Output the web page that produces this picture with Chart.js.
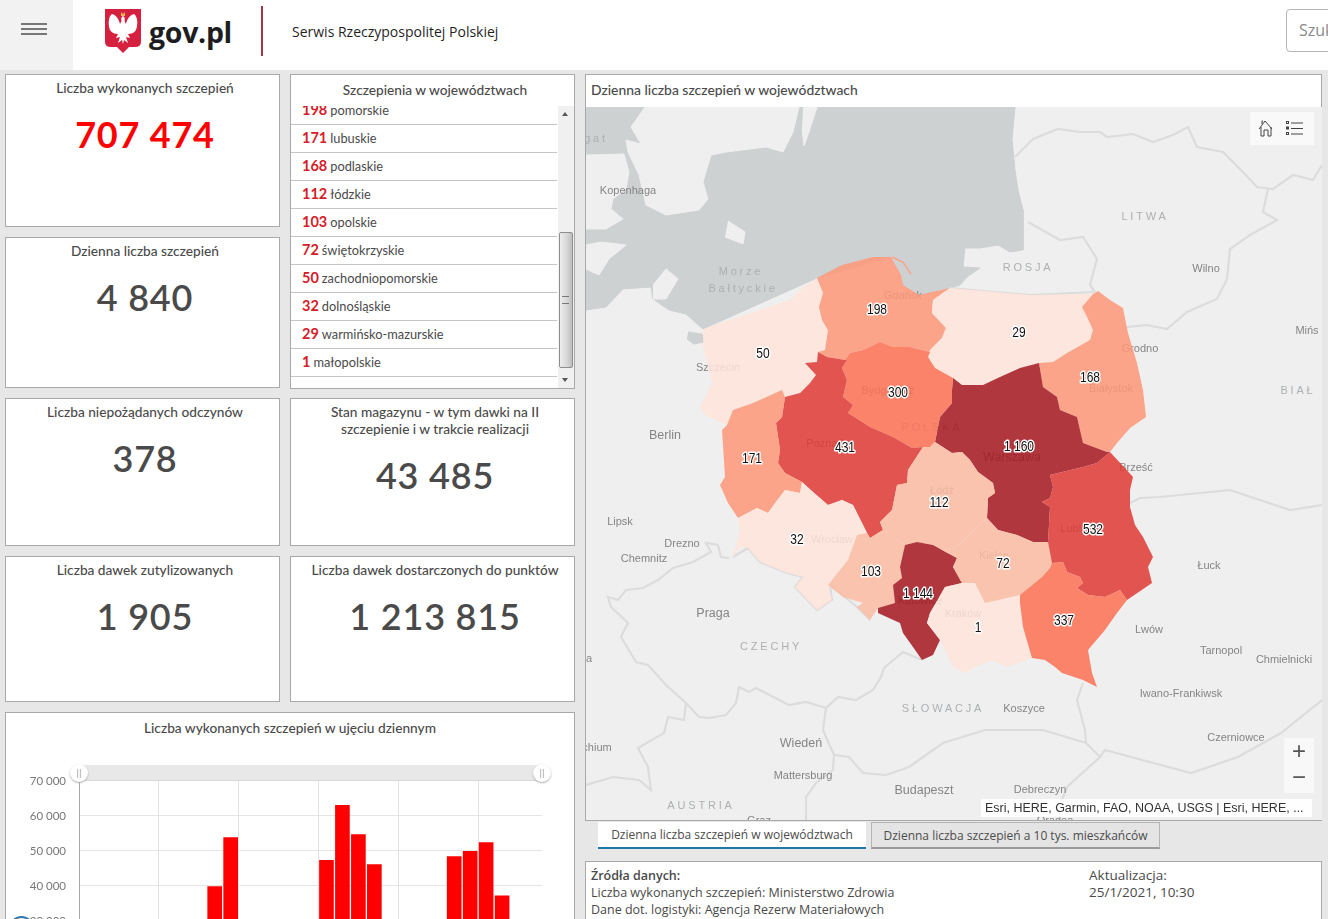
<!DOCTYPE html>
<html lang="pl">
<head>
<meta charset="utf-8">
<title>Szczepienia</title>
<script src="https://cdn.jsdelivr.net/npm/chart.js@4/dist/chart.umd.min.js"></script>
<style>
  html, body { margin: 0; padding: 0; width: 1328px; height: 919px; overflow: hidden; background: #e7e7e7; font-family: Lato, "Open Sans", sans-serif; color: #4c4c4c; }
  .abs { position: absolute; }
  .card { position: absolute; background: #fff; border: 1px solid #a9a9a9; box-sizing: border-box; overflow: hidden; }
  .title { position: absolute; left: 5px; right: 0; text-align: center; font-size: 13.7px; font-weight: 500; line-height: 17px; color: #4a4a4a; }
  .big { position: absolute; left: 5px; right: 0; text-align: center; font-size: 36px; font-weight: 600; line-height: 40px; letter-spacing: 0.8px; color: #4a4a4a; }
  #header { position: absolute; left: 0; top: 0; width: 1328px; height: 70px; background: #fff; }
  #burger { position: absolute; left: 0; top: 0; width: 73px; height: 70px; background: #f2f2f2; }
  #burger i { position: absolute; left: 21px; width: 26px; height: 2px; background: #777; }
  .row { position: absolute; left: 0; width: 266px; height: 28px; border-bottom: 1px solid #c4c4c4; box-sizing: border-box; font-size: 12.8px; line-height: 26px; padding-left: 11px; color: #4a4a4a; white-space: nowrap; }
  .row b { color: #d4202a; font-size: 14.5px; font-weight: 700; margin-right: 3px; }
  .tab { position: absolute; top: 822px; height: 27px; box-sizing: border-box; text-align: center; font-size: 12px; line-height: 25px; font-family: "Open Sans", Lato, sans-serif; }
  .src { position: absolute; font-size: 12.5px; line-height: 17px; color: #4a4a4a; font-family: "Open Sans", Lato, sans-serif; white-space: nowrap; }
</style>
</head>
<body>
<div id="header">
  <div id="burger"><i style="top:23px"></i><i style="top:28px"></i><i style="top:33px"></i></div>
  <svg class="abs" style="left:105px;top:9px" width="37" height="44" viewBox="0 0 37 44">
    <path d="M0 0H36V33Q36 38 30 38H24L18 44L12 38H6Q0 38 0 33Z" fill="#d6203f"/>
    <path d="M18 7C20 8 20 10 19.500 12L21 15C22 10 25 6 29 5C33 8 33 16 31 21C29 24 26 25 23 25L25 29L21 28L23 34L19 31L18 35L17 31L13 34L15 28L11 29L13 25C10 25 7 24 5 21C3 16 3 8 7 5C11 6 14 10 15 15L16.500 12C16 10 16 8 18 7Z" fill="#fff"/>
    <path d="M16 3L18 5L20 3V7H16Z" fill="#e8b84a"/>
  </svg>
  <div class="abs" style="left:149px;top:12px;font:700 28.5px/40px 'Open Sans',sans-serif;color:#1d1d1f;letter-spacing:-.3px">gov.pl</div>
  <div class="abs" style="left:261px;top:6px;width:2px;height:50px;background:#a8324a"></div>
  <div class="abs" style="left:292px;top:22px;font:400 14px/20px 'Open Sans',sans-serif;color:#1f1f1f">Serwis Rzeczypospolitej Polskiej</div>
  <div class="abs" style="left:1286px;top:9px;width:60px;height:43px;border:1px solid #b5b5b5;border-radius:4px;box-sizing:border-box;font:400 16px/41px 'Open Sans',sans-serif;color:#8a8a8a;padding-left:12px">Szukaj</div>
</div>

<div class="card" style="left:5px;top:74px;width:275px;height:153px">
  <div class="title" style="top:4px">Liczba wykonanych szczepień</div>
  <div class="big" id="kpiDone" style="top:39px;color:#ff0000;font-weight:700"></div>
</div>
<div class="card" style="left:5px;top:237px;width:275px;height:151px">
  <div class="title" style="top:4px">Dzienna liczba szczepień</div>
  <div class="big" id="kpiDaily" style="top:39px"></div>
</div>
<div class="card" style="left:5px;top:398px;width:275px;height:148px">
  <div class="title" style="top:4px">Liczba niepożądanych odczynów</div>
  <div class="big" id="kpiAdverse" style="top:39px"></div>
</div>
<div class="card" style="left:5px;top:556px;width:275px;height:146px">
  <div class="title" style="top:4px">Liczba dawek zutylizowanych</div>
  <div class="big" id="kpiWaste" style="top:39px"></div>
</div>

<div class="card" style="left:290px;top:74px;width:285px;height:315px">
  <div class="title" style="top:6px">Szczepienia w województwach</div>
  <div id="listBox" class="abs" style="left:0;top:31px;width:283px;height:282px;overflow:hidden"></div>
  <div class="abs" style="left:267px;top:31px;width:16px;height:282px;background:#f0f0f0"></div>
  <div class="abs" style="left:268px;top:157px;width:14px;height:136px;box-sizing:border-box;border:1px solid #8e8e8e;border-radius:2px;background:linear-gradient(90deg,#eee,#d6d6d6 60%,#bdbdbd)"></div>
  <div class="abs" style="left:271px;top:221px;width:7px;height:6px;border-top:1px solid #777;border-bottom:1px solid #777"></div>
  <div class="abs" style="left:271px;top:34px;border:3px solid transparent;border-bottom:4px solid #555"></div>
  <div class="abs" style="left:271px;top:303px;border:3px solid transparent;border-top:4px solid #555"></div>
</div>
<div class="card" style="left:290px;top:398px;width:285px;height:148px">
  <div class="title" style="top:4px">Stan magazynu - w tym dawki na II<br>szczepienie i w trakcie realizacji</div>
  <div class="big" id="kpiStock" style="top:56px"></div>
</div>
<div class="card" style="left:290px;top:556px;width:285px;height:146px">
  <div class="title" style="top:4px">Liczba dawek dostarczonych do punktów</div>
  <div class="big" id="kpiDelivered" style="top:39px"></div>
</div>

<!-- daily bars -->
<div class="card" style="left:5px;top:712px;width:570px;height:220px">
  <div class="title" style="top:6px;left:0">Liczba wykonanych szczepień w ujęciu dziennym</div>
</div>
<div class="abs" style="left:0;top:761px;width:580px;height:158px;overflow:hidden">
  <canvas id="dailyChart" width="580" height="290" style="position:absolute;left:0;top:0"></canvas>
</div>
<div class="abs" style="left:79px;top:765px;width:463px;height:16px;background:#e8e8e8;border-bottom:1px solid #d8d8d8;box-sizing:border-box"></div>
<div class="abs" style="left:70px;top:764px;width:18px;height:18px;border-radius:50%;background:#fff;box-shadow:0 1px 2px #aaa;font:10px/17px Lato;text-align:center;color:#999">||</div>
<div class="abs" style="left:533px;top:764px;width:18px;height:18px;border-radius:50%;background:#fff;box-shadow:0 1px 2px #aaa;font:10px/17px Lato;text-align:center;color:#999">||</div>
<div class="abs" style="left:9px;top:916px;width:25px;height:25px;border:2px solid #2d78ac;border-radius:50%;box-sizing:border-box"></div>

<!-- map -->
<div class="card" style="left:585px;top:74px;width:737px;height:747px">
  <div class="abs" style="left:5px;top:6px;font-size:13.9px;font-weight:500;line-height:17px;color:#4a4a4a">Dzienna liczba szczepień w województwach</div>
</div>
<canvas id="mapChart" width="736" height="713" class="abs" style="left:586px;top:107px;background:#efefef"></canvas>
<div class="abs" style="left:1250px;top:112px;width:64px;height:33px;background:rgba(250,250,250,.85)"></div>
<svg class="abs" style="left:1250px;top:112px" width="64" height="33" fill="none" stroke="#444" stroke-width="1">
  <path d="M9 17L15 9L22 17M11 15V24H14V18H18V24H21V15M12 12V9H13"/>
  <path d="M41 11H53M41 16.500H53M41 22H53"/>
  <rect x="36.500" y="9.500" width="2" height="2"/><rect x="36.500" y="15" width="2" height="2"/><rect x="36.500" y="20.500" width="2" height="2"/>
</svg>
<div class="abs" style="left:1284px;top:738px;width:30px;height:55px;background:rgba(248,248,248,.9);color:#555;text-align:center;font:400 24px/26px 'Liberation Sans',sans-serif">+<br>&#8722;</div>
<div class="abs" style="left:981px;top:799px;width:331px;height:18px;background:rgba(255,255,255,.92);font:12.5px/18px 'Liberation Sans',sans-serif;color:#333;padding-left:4px;box-sizing:border-box;white-space:nowrap">Esri, HERE, Garmin, FAO, NOAA, USGS | Esri, HERE, ...</div>

<div class="tab" style="left:598px;width:268px;background:#fff;border-bottom:2px solid #1f77a6">Dzienna liczba szczepień w województwach</div>
<div class="tab" style="left:871px;width:289px;background:#e4e4e4;border:1px solid #b5b5b5;border-bottom:2px solid #9a9a9a">Dzienna liczba szczepień a 10 tys. mieszkańców</div>

<div class="card" style="left:585px;top:861px;width:737px;height:80px"></div>
<div class="src" style="left:591px;top:867px;font-weight:600">Źródła danych:</div>
<div class="src" style="left:591px;top:884px">Liczba wykonanych szczepień: Ministerstwo Zdrowia</div>
<div class="src" style="left:591px;top:901px">Dane dot. logistyki: Agencja Rezerw Materiałowych</div>
<div class="src" style="left:1089px;top:867px;font-size:13.5px">Aktualizacja:</div>
<div class="src" style="left:1089px;top:884px;font-size:13.5px">25/1/2021, 10:30</div>

<script>
// Headline numbers
const kpiDone = 707474;
const kpiDaily = 4840;
const kpiAdverse = 378;
const kpiWaste = 1905;
const kpiStock = 43485;
const kpiDelivered = 1213815;

// Scrolled list on the left
const listNames = ["pomorskie", "lubuskie", "podlaskie", "łódzkie", "opolskie", "świętokrzyskie", "zachodniopomorskie", "dolnośląskie", "warmińsko-mazurskie", "małopolskie"];
const listValues = [198, 171, 168, 112, 103, 72, 50, 32, 29, 1];

// Daily chart. Bars under about 30 000 run off the bottom of the screenshot, those are guesses
const dayLabels = ["27/12", "28/12", "29/12", "30/12", "31/12", "1/1", "2/1", "3/1", "4/1", "5/1", "6/1", "7/1", "8/1", "9/1", "10/1", "11/1", "12/1", "13/1", "14/1", "15/1", "16/1", "17/1", "18/1", "19/1", "20/1", "21/1", "22/1", "23/1", "24/1"];
const dayValues = [700, 1500, 6000, 9000, 11000, 6000, 4000, 2000, 39800, 53800, 25000, 20000, 28000, 14000, 5000, 47300, 63000, 54700, 46100, 28000, 20000, 6000, 28000, 48400, 49900, 52400, 37200, 15000, 5000];
const dayTicks = [70000, 60000, 50000, 40000, 30000, 20000, 10000, 0];

// Map values and class colours (alpha so the base map labels show through, like the feature layer)
const regionValues = [50, 198, 29, 168, 1160, 300, 431, 171, 32, 103, 112, 1144, 1, 72, 532, 337];
const classPale = "rgba(255,228,218,0.86)";
const classLight = "rgba(251,187,162,0.86)";
const classMid = "rgba(254,151,120,0.86)";
const classStrong = "rgba(251,113,84,0.86)";
const classHigh = "rgba(222,58,52,0.86)";
const classTop = "rgba(167,25,34,0.86)";
const regionColors = [classPale, classMid, classPale, classMid, classTop, classStrong, classHigh, classMid, classPale, classLight, classLight, classTop, classPale, classLight, classHigh, classStrong];
const regionLabelX = [763, 877, 1019, 1090, 1019, 898, 845, 752, 797, 871, 939, 918, 978, 1003, 1093, 1064];
const regionLabelY = [353, 309, 332, 377, 446, 392, 447, 458, 539, 571, 502, 593, 627, 563, 529, 620];

// Outlines in map units (same grid for everything on the map)
const zachodniopomorskie = [[703, 329], [730, 320], [760, 310], [790, 300], [803, 287], [817, 278], [823, 293], [819, 307], [822, 320], [828, 330], [825, 350], [818, 352], [817, 362], [805, 363], [816, 375], [810, 383], [800, 393], [785, 397], [782, 390], [753, 403], [733, 410], [727, 425], [705, 415], [700, 407], [712, 383], [703, 347]];
const pomorskie = [[817, 278], [842, 265], [873, 257], [891, 257], [901, 275], [903, 285], [919, 295], [950, 288], [933, 300], [932, 313], [946, 328], [942, 338], [930, 350], [930, 352], [910, 347], [893, 347], [880, 342], [863, 350], [850, 353], [845, 360], [827, 357], [818, 352], [825, 350], [828, 330], [822, 320], [819, 307], [823, 293]];
const warminskoMazurskie = [[950, 288], [987, 291], [1030, 295], [1093, 294], [1082, 307], [1087, 317], [1093, 330], [1090, 340], [1067, 353], [1053, 362], [1039, 363], [1020, 368], [1000, 377], [983, 385], [962, 385], [953, 378], [935, 368], [928, 357], [930, 350], [942, 338], [946, 328], [932, 313], [933, 300]];
const podlaskie = [[1098, 291], [1110, 300], [1123, 308], [1128, 333], [1137, 363], [1143, 390], [1146, 417], [1130, 428], [1117, 443], [1110, 452], [1107, 452], [1083, 443], [1077, 417], [1060, 410], [1057, 397], [1043, 387], [1039, 363], [1053, 362], [1067, 353], [1090, 340], [1093, 330], [1087, 317], [1082, 307], [1093, 294]];
const mazowieckie = [[1039, 363], [1043, 387], [1057, 397], [1060, 410], [1077, 417], [1083, 443], [1107, 452], [1110, 452], [1097, 463], [1083, 467], [1050, 475], [1053, 487], [1050, 498], [1042, 502], [1050, 507], [1048, 542], [1033, 542], [1017, 535], [998, 530], [987, 518], [988, 498], [995, 493], [993, 483], [978, 472], [970, 460], [962, 452], [952, 453], [935, 442], [940, 417], [952, 403], [952, 390], [953, 378], [962, 385], [983, 385], [1000, 377], [1020, 368]];
const kujawskoPomorskie = [[845, 360], [850, 353], [863, 350], [880, 342], [893, 347], [910, 347], [930, 352], [928, 357], [935, 368], [953, 378], [952, 390], [952, 403], [940, 417], [935, 442], [930, 447], [923, 447], [912, 448], [893, 437], [870, 427], [848, 413], [853, 405], [843, 397], [847, 380], [842, 368], [847, 360]];
const wielkopolskie = [[818, 352], [827, 357], [845, 360], [847, 360], [842, 368], [847, 380], [843, 397], [853, 405], [848, 413], [870, 427], [893, 437], [912, 448], [923, 447], [908, 470], [907, 483], [897, 485], [892, 510], [880, 522], [883, 530], [870, 538], [867, 533], [863, 525], [853, 505], [842, 500], [828, 505], [813, 492], [802, 482], [785, 473], [778, 463], [780, 450], [776, 423], [782, 417], [785, 397], [800, 393], [810, 383], [816, 375], [805, 363], [817, 362]];
const lubuskie = [[733, 410], [753, 403], [782, 390], [785, 397], [782, 417], [776, 423], [780, 450], [778, 463], [785, 473], [802, 482], [800, 493], [785, 490], [775, 503], [768, 513], [757, 508], [738, 518], [728, 503], [720, 485], [725, 477], [722, 430], [727, 425]];
const dolnoslaskie = [[738, 518], [757, 508], [768, 513], [785, 490], [800, 493], [802, 482], [813, 492], [828, 505], [842, 500], [853, 505], [863, 525], [867, 533], [857, 535], [848, 560], [840, 570], [828, 585], [832, 600], [817, 610], [795, 587], [803, 577], [787, 573], [760, 562], [748, 548], [740, 547], [733, 557], [740, 530]];
const opolskie = [[867, 533], [870, 538], [883, 530], [905, 545], [900, 567], [902, 578], [893, 585], [895, 603], [878, 608], [870, 620], [857, 607], [863, 603], [843, 597], [828, 585], [840, 570], [848, 560], [857, 535]];
const lodzkie = [[923, 447], [930, 447], [935, 442], [952, 453], [962, 452], [970, 460], [978, 472], [993, 483], [995, 493], [988, 498], [987, 518], [977, 527], [957, 547], [942, 550], [933, 545], [917, 542], [905, 545], [883, 530], [880, 522], [892, 510], [897, 485], [907, 483], [908, 470]];
const slaskie = [[905, 545], [917, 542], [933, 545], [942, 550], [957, 558], [953, 567], [962, 583], [945, 587], [930, 613], [927, 623], [940, 640], [933, 655], [922, 660], [913, 647], [903, 633], [900, 623], [878, 613], [878, 608], [895, 603], [893, 585], [902, 578], [900, 567]];
const malopolskie = [[962, 583], [975, 583], [985, 603], [1020, 595], [1020, 603], [1023, 627], [1032, 658], [1007, 667], [992, 660], [975, 667], [965, 673], [953, 667], [945, 650], [940, 640], [927, 623], [930, 613], [945, 587]];
const swietokrzyskie = [[957, 547], [977, 527], [987, 518], [998, 530], [1017, 535], [1033, 542], [1048, 542], [1052, 563], [1050, 568], [1042, 577], [1020, 595], [985, 603], [975, 583], [962, 583], [953, 567], [957, 558], [942, 550]];
const lubelskie = [[1050, 475], [1083, 467], [1097, 463], [1110, 452], [1133, 477], [1130, 490], [1130, 507], [1135, 525], [1143, 537], [1153, 557], [1148, 567], [1152, 583], [1127, 600], [1120, 590], [1105, 597], [1088, 595], [1077, 588], [1083, 583], [1080, 577], [1067, 572], [1063, 562], [1052, 563], [1048, 542], [1050, 507], [1042, 502], [1050, 498], [1053, 487]];
const podkarpackie = [[1052, 563], [1063, 562], [1067, 572], [1080, 577], [1083, 583], [1077, 588], [1088, 595], [1105, 597], [1120, 590], [1127, 600], [1117, 613], [1105, 630], [1088, 650], [1092, 673], [1097, 687], [1083, 680], [1062, 673], [1055, 667], [1045, 660], [1032, 658], [1023, 627], [1020, 603], [1020, 595], [1042, 577], [1050, 568]];
const regionShapes = [zachodniopomorskie, pomorskie, warminskoMazurskie, podlaskie, mazowieckie, kujawskoPomorskie, wielkopolskie, lubuskie, dolnoslaskie, opolskie, lodzkie, slaskie, malopolskie, swietokrzyskie, lubelskie, podkarpackie];

// Base map
const seaShape = [[586, 107], [1015, 107], [1012, 139], [1015, 170], [1018, 190], [1023, 210], [1023, 250], [1010, 252], [998, 245], [980, 248], [965, 248], [963, 267], [980, 268], [967, 277], [960, 285], [950, 288], [919, 296], [903, 285], [901, 275], [891, 257], [817, 278], [703, 329], [686, 314], [669, 310], [653, 299], [651, 287], [623, 289], [606, 307], [586, 310]];
const sweden = [[645, 107], [631, 127], [641, 144], [626, 140], [628, 152], [639, 175], [646, 205], [666, 215], [699, 210], [708, 199], [703, 182], [711, 155], [726, 152], [766, 147], [783, 152], [793, 132], [799, 107]];
const oland = [[803, 107], [817, 107], [809, 132], [804, 146], [802, 129]];
const bornholm = [[728, 221], [745, 232], [743, 244], [725, 237]];
const zealand = [[586, 155], [624, 154], [629, 172], [626, 189], [613, 199], [611, 209], [623, 219], [606, 229], [586, 229]];
const lolland = [[586, 245], [601, 242], [626, 245], [609, 259], [599, 275], [586, 269]];
const rugen = [[653, 285], [666, 269], [678, 279], [666, 299], [653, 299]];
const landPatches = [sweden, oland, bornholm, zealand, lolland, rugen];
const szczecinLagoon = [[688, 332], [702, 334], [704, 342], [694, 344], [687, 339]];
const helPeninsula = [[892, 257], [903, 262], [911, 274]];

// Country borders
const borderCzech = [[729, 558], [721, 557], [718, 545], [706, 543], [711, 552], [693, 562], [673, 568], [658, 580], [643, 588], [626, 590], [618, 600], [608, 597], [611, 607], [628, 623], [621, 637], [636, 662], [648, 665], [666, 685], [686, 703], [699, 717], [709, 718], [726, 715], [736, 703], [739, 687], [749, 692], [756, 688], [789, 705], [806, 702], [826, 708], [838, 697], [856, 700], [873, 690], [881, 677], [884, 668], [903, 652], [922, 660]];
const borderPlSouth = [[733, 557], [748, 548], [760, 562], [787, 573], [803, 577], [795, 587], [817, 610], [832, 600], [830, 585], [857, 607], [870, 620]];
const borderAustriaWest = [[686, 703], [684, 720], [668, 717], [664, 733], [638, 748], [648, 767], [651, 790], [639, 780], [613, 777], [586, 785]];
const borderAustriaEast = [[826, 708], [823, 730], [834, 755], [833, 770], [816, 783], [806, 797], [806, 820]];
const borderHungary = [[834, 755], [849, 757], [863, 773], [886, 775], [909, 767], [943, 743], [985, 730], [1043, 730], [1086, 743], [1100, 757], [1067, 787], [1057, 813]];
const borderSlovakia = [[1083, 683], [1077, 700], [1085, 730], [1086, 743]];
const borderRomania = [[1100, 757], [1105, 750], [1191, 773], [1238, 757], [1281, 733], [1322, 700]];
const borderLithuaniaNorth = [[1015, 157], [1033, 139], [1058, 129], [1080, 132], [1100, 132], [1107, 137], [1133, 134], [1153, 142], [1173, 135], [1188, 127], [1197, 147], [1223, 152], [1243, 172], [1257, 187], [1273, 189], [1293, 175], [1313, 180], [1322, 165]];
const borderBelarus = [[1268, 189], [1263, 212], [1277, 220], [1250, 235], [1230, 249], [1227, 279], [1217, 299], [1187, 312], [1167, 329], [1147, 325], [1127, 327]];
const borderKaliningrad = [[1028, 222], [1060, 240], [1083, 237], [1097, 259], [1090, 285], [1095, 292]];
const borderRussiaPoland = [[950, 288], [1030, 295], [1095, 292]];
const borderUkraine = [[1130, 503], [1140, 498], [1160, 497], [1230, 490], [1290, 510], [1322, 505]];
const borderLines = [borderCzech, borderPlSouth, borderAustriaWest, borderAustriaEast, borderHungary, borderSlovakia, borderRomania, borderLithuaniaNorth, borderBelarus, borderKaliningrad, borderRussiaPoland, borderUkraine];

// Place names. Kind: 0 city, 1 country or sea, 2 capital (a bit larger)
const placeNames = ["gat", "Kopenhaga", "Morze", "Bałtyckie", "ROSJA", "LITWA", "Wilno", "Mińs", "Grodno", "BIAŁ", "Białystok", "Gdańsk", "Szczecin", "Bydgoszcz", "POLSKA", "Poznań", "Warszawa", "Brześć", "Berlin", "Lipsk", "Drezno", "Chemnitz", "Wrocław", "Łódź", "Kielce", "Katowice", "Kraków", "Lublin", "Łuck", "Lwów", "Tarnopol", "Chmielnicki", "Iwano-Frankiwsk", "Praga", "CZECHY", "SŁOWACJA", "Koszyce", "Wiedeń", "Mattersburg", "Budapeszt", "Debreczyn", "Czerniowce", "AUSTRIA", "chium", "a", "Graz", "Oradea"];
const placeX = [596, 628, 741, 743, 1028, 1145, 1206, 1307, 1140, 1298, 1111, 903, 718, 888, 932, 825, 1012, 1136, 665, 620, 682, 644, 832, 942, 994, 920, 963, 1075, 1209, 1149, 1221, 1284, 1181, 713, 771, 943, 1024, 801, 803, 924, 1040, 1236, 701, 597, 589, 759, 1055];
const placeY = [138, 190, 271, 288, 267, 216, 268, 330, 348, 390, 388, 295, 367, 390, 427, 443, 457, 467, 435, 521, 543, 558, 539, 490, 555, 600, 613, 528, 565, 629, 650, 659, 693, 613, 646, 708, 708, 743, 775, 790, 789, 737, 805, 747, 658, 820, 820];
const placeKinds = [1, 0, 1, 1, 1, 1, 0, 0, 0, 1, 0, 0, 0, 0, 1, 0, 2, 0, 2, 0, 0, 0, 0, 0, 0, 0, 0, 0, 0, 0, 0, 0, 0, 2, 1, 1, 0, 2, 0, 2, 0, 0, 1, 0, 0, 0, 0];

function formatPl(value) {
  return String(value).replace(/\B(?=(\d{3})+(?!\d))/g, " ");
}

// Fill the cards
document.getElementById("kpiDone").textContent = formatPl(kpiDone);
document.getElementById("kpiDaily").textContent = formatPl(kpiDaily);
document.getElementById("kpiAdverse").textContent = formatPl(kpiAdverse);
document.getElementById("kpiWaste").textContent = formatPl(kpiWaste);
document.getElementById("kpiStock").textContent = formatPl(kpiStock);
document.getElementById("kpiDelivered").textContent = formatPl(kpiDelivered);

let listHTML = "";
listNames.forEach((name, i) => {
  listHTML += `<div class="row" style="top:${-9 + i * 28}px"><b>${listValues[i]}</b>${name}</div>`;
});
document.getElementById("listBox").innerHTML = listHTML;

// Bar chart
new Chart(document.getElementById("dailyChart"), {
  type: "bar",
  data: {
    labels: dayLabels,
    datasets: [{ data: dayValues, backgroundColor: "#ff0000", barThickness: 14 }],
  },
  options: {
    responsive: false,
    animation: false,
    layout: { padding: { top: 2, right: 38, left: 0, bottom: 0 } },
    plugins: { legend: { display: false }, tooltip: { enabled: false } },
    scales: {
      x: {
        offset: true,
        afterFit: (scale) => { scale.height = 25; },
        border: { color: "#a8a8a8" },
        grid: { drawTicks: false, color: (ctx) => (ctx.index % 5 === 0 && ctx.index > 0 ? "#e2e2e2" : "transparent") },
        ticks: { autoSkip: false, maxRotation: 0, color: "#777", font: { family: "Lato", size: 11 }, callback: (v, i) => (i % 5 === 0 ? dayLabels[i] : "") },
      },
      y: {
        min: 0,
        max: 70000,
        afterFit: (scale) => { scale.width = 79; },
        afterBuildTicks: (scale) => { scale.ticks = dayTicks.map((value) => ({ value })); },
        border: { color: "#a8a8a8" },
        grid: { drawTicks: false, color: "#e4e4e4" },
        ticks: { padding: 13, color: "#777", font: { family: "Lato", size: 11.5 }, callback: (v) => formatPl(v) },
      },
    },
  },
});

// Map as a scatter chart with closed filled lines
function toPoints(shape) {
  return shape.map((p) => ({ x: p[0], y: p[1] }));
}

const mapDatasets = [];
function addShape(shape, color, border, width) {
  mapDatasets.push({ data: toPoints(shape), showLine: true, fill: "shape", tension: 0, pointRadius: 0, borderColor: border, borderWidth: width, backgroundColor: color });
}
function addLine(shape, color, width) {
  mapDatasets.push({ data: toPoints(shape), showLine: true, fill: false, tension: 0, pointRadius: 0, borderColor: color, borderWidth: width });
}

addShape(seaShape, "#cdd1d2", "#cdd1d2", 1);
landPatches.forEach((patch) => addShape(patch, "#efefef", "#efefef", 1));
borderLines.forEach((line) => addLine(line, "#dcdcdc", 2.2));
addShape(szczecinLagoon, "#cdd1d2", "#cdd1d2", 1);
addLine(helPeninsula, "#fca389", 1.5);
const lastBaseDataset = mapDatasets.length - 1;
regionShapes.forEach((shape, i) => addShape(shape, regionColors[i], "transparent", 1));
// later datasets go on top
mapDatasets.forEach((ds, i) => { ds.order = mapDatasets.length - i; });

const mapLabels = {
  id: "mapLabels",
  // place names sit under the regions, value labels on top of everything
  afterDatasetDraw(chart, args) {
    if (args.index !== lastBaseDataset) return;
    const { ctx, scales } = chart;
    ctx.save();
    ctx.textAlign = "center";
    ctx.textBaseline = "middle";
    placeNames.forEach((name, i) => {
      const kind = placeKinds[i];
      ctx.font = kind === 2 ? "12.5px 'Liberation Sans'" : "11px 'Liberation Sans'";
      ctx.letterSpacing = kind === 1 ? "2.8px" : "0px";
      ctx.fillStyle = kind === 1 ? "#adb0b2" : "#858585";
      ctx.fillText(name, scales.x.getPixelForValue(placeX[i]), scales.y.getPixelForValue(placeY[i]) + 1);
    });
    ctx.restore();
  },
  afterDatasetsDraw(chart) {
    const { ctx, scales } = chart;
    ctx.save();
    ctx.textAlign = "center";
    ctx.textBaseline = "middle";
    ctx.font = "14px 'Liberation Sans'";
    ctx.lineJoin = "round";
    regionValues.forEach((value, i) => {
      const x = scales.x.getPixelForValue(regionLabelX[i]);
      const y = scales.y.getPixelForValue(regionLabelY[i]) + 1;
      const text = formatPl(value);
      // the labels are squeezed in the original
      ctx.save();
      ctx.translate(x, y);
      ctx.scale(0.86, 1);
      ctx.lineWidth = 3;
      ctx.strokeStyle = "#fff";
      ctx.strokeText(text, 0, 0);
      ctx.fillStyle = "#111";
      ctx.fillText(text, 0, 0);
      ctx.restore();
    });
    ctx.restore();
  },
};

new Chart(document.getElementById("mapChart"), {
  type: "scatter",
  data: { datasets: mapDatasets },
  plugins: [mapLabels],
  options: {
    responsive: false,
    animation: false,
    layout: { padding: 0 },
    plugins: { legend: { display: false }, tooltip: { enabled: false }, filler: { drawTime: "beforeDatasetDraw" } },
    scales: {
      x: { type: "linear", display: false, min: 586, max: 1322 },
      y: { type: "linear", display: false, min: 107, max: 820, reverse: true },
    },
  },
});
</script>
</body>
</html>
